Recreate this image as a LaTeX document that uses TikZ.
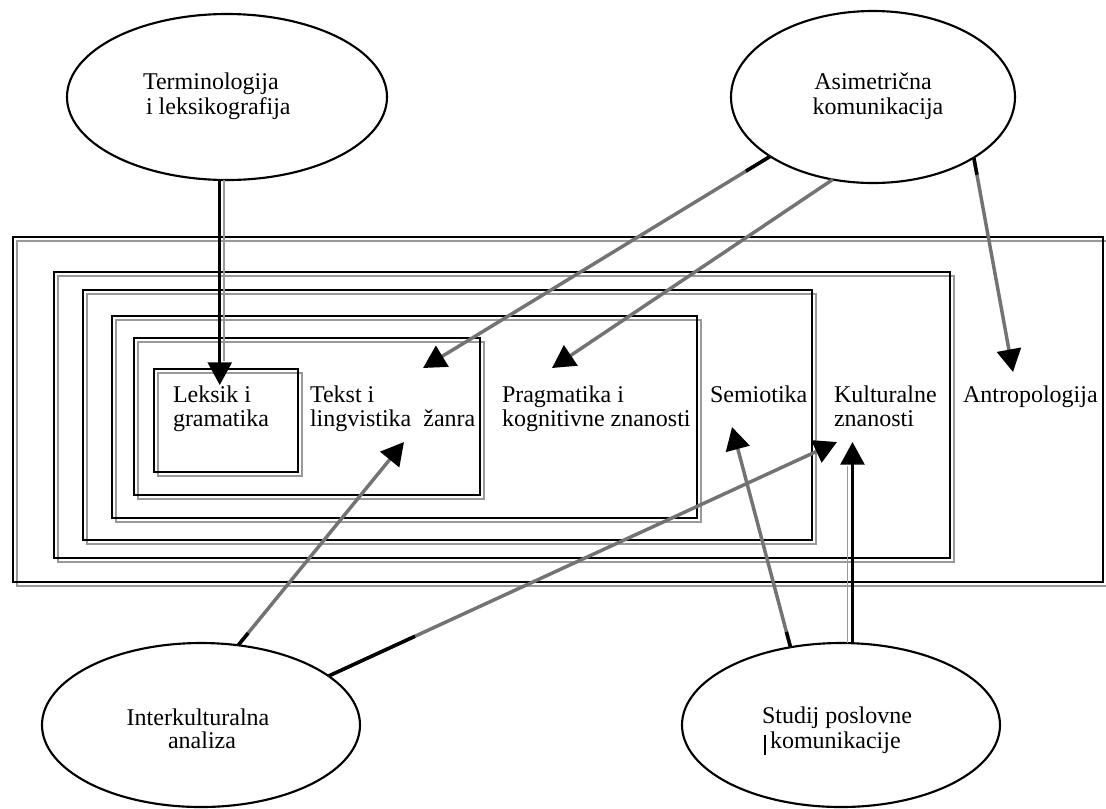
\documentclass[tikz,border=0pt]{standalone}
\usepackage{fontspec}
\setmainfont{Liberation Serif}
\usetikzlibrary{arrows.meta,shapes.geometric,calc}
\begin{document}
\begin{tikzpicture}[x=0.75pt,y=-0.75pt,
  every node/.style={inner sep=0pt, outer sep=0pt},
  lbl/.style={anchor=base west, font=\fontsize{18}{22}\selectfont},
  clbl/.style={anchor=base, font=\fontsize{18}{22}\selectfont},
  oval/.style={ellipse, draw=black, line width=1.6pt},
  frame/.style={draw=black, line width=2pt},
  shade/.style={draw=black!40, line width=1.3pt},
  blk/.style={draw=black, line width=2pt, -{Triangle[length=17pt,width=18pt]}},
  gry/.style={draw=black!55, line width=2.6pt, -{Triangle[length=17pt,width=18pt,color=black]}},
  dark/.style={draw=black, line width=2.6pt}
]
\useasboundingbox (0,0) rectangle (1106,808);

% nested frames (grey offset line + black line)
\foreach \a/\b/\c/\d in {13/237/1103/582, 54/272/950/558, 83/290/812/540,
                         112/316/697/518, 134/338/480/495, 154/369/298/472}{
  \draw[shade] (\a+4,\b+4) rectangle (\c+4,\d+4);
  \draw[frame] (\a,\b) rectangle (\c,\d);
}

% ellipses
\node[oval, minimum width=240pt, minimum height=124.5pt] (term)  at (227,97) {};
\node[oval, minimum width=213pt, minimum height=129pt]   (asim)  at (873,97) {};
\node[oval, minimum width=238.5pt, minimum height=123pt] (inter) at (201,725) {};
\node[oval, minimum width=238.5pt, minimum height=123pt] (stud)  at (841,725) {};

% ellipse texts
\node[lbl] (t1) at (143,89) {Terminologija};
\node[lbl] (t2) at (146,114) {i leksikografija};
\node[clbl] (a1) at (873,89) {Asimetrična};
\node[clbl] (a2) at (878,114) {komunikacija};
\node[clbl] (i1) at (198,725) {Interkulturalna};
\node[clbl] (i2) at (202,748) {analiza};
\node[lbl] (s1) at (762,723) {Studij poslovne};
\node[lbl] (s2) at (770,748) {komunikacije};
\draw[black, line width=2pt] (s2.base west) ++(-5,-13) coordinate (cur1) -- ++(0,20) coordinate (cur2);

% box texts
\node[lbl] (lex1) at (173,402) {Leksik i};
\node[lbl] (lex2) at (173,426) {gramatika};
\node[lbl] (tek1) at (310,402) {Tekst i};
\node[lbl] (tek2) at (310,426) {lingvistika\ \ žanra};
\node[lbl] (pra1) at (502,402) {Pragmatika i};
\node[lbl] (pra2) at (502,426) {kognitivne znanosti};
\node[lbl] (sem)  at (710,402) {Semiotika};
\node[lbl] (kul1) at (834,402) {Kulturalne};
\node[lbl] (kul2) at (834,426) {znanosti};
\node[lbl] (ant)  at (963,402) {Antropologija};

% arrow tips
\coordinate (tLex)   at (220,385);
\coordinate (tTek1)  at (423,368);
\coordinate (tPrag)  at (552,368);
\coordinate (tAnt)   at (1013,372);
\coordinate (tTek2)  at (404,442);
\coordinate (tKul1)  at (837,442);
\coordinate (tSem)   at (732,427);
\coordinate (tKul2)  at (853,442);

% connectors
\draw[shade] ($(term.265)+(4,0)$) -- ($(term.265 |- tLex)+(4,-24)$);
\draw[blk] (term.265) -- (term.265 |- tLex);
\draw[gry] (asim.210) -- (tTek1);
\draw[dark] (asim.210) -- ($(asim.210)!0.07!(tTek1)$);
\draw[gry] (asim.244) -- (tPrag);
\draw[gry] (asim.329) -- (tAnt);
\draw[dark] (asim.329) -- ($(asim.329)!0.08!(tAnt)$);
\draw[gry] (inter.65) -- (tTek2);
\draw[dark] (inter.65) -- ($(inter.65)!0.06!(tTek2)$);
\draw[gry] (inter.21) -- (tKul1);
\draw[dark] (inter.21) -- ($(inter.21)!0.17!(tKul1)$);
\draw[gry] (stud.123) -- (tSem);
\draw[dark] (stud.123) -- ($(stud.123)!0.07!(tSem)$);
\draw[shade] ($(stud.82)+(-5,0)$) -- ($(stud.82 |- tKul2)+(-5,24)$);
\draw[blk] (stud.82) -- (stud.82 |- tKul2);
\end{tikzpicture}
\end{document}
